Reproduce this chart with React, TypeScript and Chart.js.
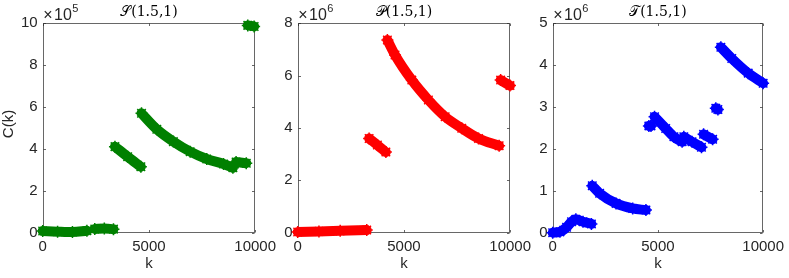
import React, { useEffect, useRef } from "react";
import { Chart, registerables } from "chart.js";
Chart.register(...registerables);

// ---------- data (values in axis units: S ×10^5, P and T ×10^6) ----------
const kTickStep = 5000;
const kMax = 10000;

const sSeg1 = [[0, 0.08], [700, 0.05], [1400, 0.03], [2080, 0.09]];
const sSeg2 = [[2450, 0.18], [2900, 0.2], [3330, 0.17]];
const sSeg3 = [[3400, 4.11], [4000, 3.63], [4620, 3.15]];
const sSeg4 = [[4650, 5.7], [5370, 4.94], [6150, 4.35], [6940, 3.87], [7720, 3.52], [8510, 3.28], [8950, 3.1]];
const sSeg5 = [[9100, 3.38], [9580, 3.32]];
const sSeg6 = [[9650, 9.9], [9950, 9.85]];

const pSeg1 = [[0, 0.03], [1000, 0.05], [2000, 0.07], [3250, 0.1]];
const pSeg2 = [[3360, 3.6], [3750, 3.35], [4150, 3.08]];
const pSeg3 = [[4220, 7.36], [4580, 6.79], [5370, 5.83], [6150, 5.07], [6940, 4.43], [7720, 3.99], [8510, 3.6], [9480, 3.32]];
const pSeg4 = [[9550, 5.83], [9990, 5.62]];

const tSeg1 = [[0, 0.0], [345, 0.02], [660, 0.13], [895, 0.26], [1100, 0.32], [1440, 0.26], [1840, 0.21]];
const tSeg2 = [[1880, 1.12], [2230, 0.94], [3010, 0.7], [3800, 0.58], [4430, 0.54]];
const tSeg3 = [[4570, 2.55], [4670, 2.55]];
const tSeg4 = [[4840, 2.77], [5370, 2.49], [5760, 2.29], [6150, 2.17]];
const tSeg5 = [[6230, 2.29], [6620, 2.17], [7070, 2.04]];
const tSeg6 = [[7170, 2.35], [7600, 2.23]];
const tSeg7 = [[7750, 2.97], [7850, 2.94]];
const tSeg8 = [[7990, 4.43], [8510, 4.16], [9290, 3.81], [10000, 3.57]];

const panelTitles = ["𝒮(1.5,1)", "𝒫(1.5,1)", "𝒯(1.5,1)"];
const panelExponents = ["5", "6", "6"];
const panelYMax = [10, 8, 5];
const panelYStep = [2, 2, 1];
const panelColors = ["#008000", "#ff0000", "#0000ff"];
const panelSegments = [
  [sSeg1, sSeg2, sSeg3, sSeg4, sSeg5, sSeg6],
  [pSeg1, pSeg2, pSeg3, pSeg4],
  [tSeg1, tSeg2, tSeg3, tSeg4, tSeg5, tSeg6, tSeg7, tSeg8],
];
const xLabel = "k";
const yLabel = "C(k)";

// ---------- layout ----------
const W = 789;
const H = 278;
const plotLefts = [42.7, 297.7, 552.7];
const plotWidth = 212.5;
const plotTop = 23.3;
const plotBottom = 232.7;
const Y_AXIS_W = 30;
const X_AXIS_H = 30;
const SANS = '"Liberation Sans", Arial, Helvetica, sans-serif';
const SERIF = '"DejaVu Serif", "Liberation Serif", serif';
const AXIS_COLOR = "#262626";

function makeDecor(i: number) {
  return {
    id: "decor" + i,
    beforeDatasetsDraw(chart: any) {
      const { ctx, chartArea: a, scales } = chart;
      ctx.save();
      ctx.strokeStyle = "rgba(38,38,38,0.7)";
      ctx.lineWidth = 1;
      const L = Math.round(a.left) + 0.5;
      const R = Math.round(a.right) - 0.5;
      const T = Math.round(a.top) + 0.5;
      const B = Math.round(a.bottom) - 0.5;
      ctx.strokeRect(L, T, R - L, B - T);
      const tl = 2.5;
      ctx.beginPath();
      for (const t of scales.x.ticks) {
        const px = Math.round(scales.x.getPixelForValue(t.value)) + 0.5;
        ctx.moveTo(px, B);
        ctx.lineTo(px, B - tl);
        ctx.moveTo(px, T);
        ctx.lineTo(px, T + tl);
      }
      for (const t of scales.y.ticks) {
        const py = Math.round(scales.y.getPixelForValue(t.value)) + 0.5;
        ctx.moveTo(L, py);
        ctx.lineTo(L + tl, py);
        ctx.moveTo(R, py);
        ctx.lineTo(R - tl, py);
      }
      ctx.stroke();
      ctx.restore();
    },
    afterDraw(chart: any) {
      const { ctx, chartArea: a } = chart;
      const cx = (a.left + a.right) / 2;
      ctx.save();
      // title
      ctx.fillStyle = "#000";
      ctx.textAlign = "center";
      ctx.textBaseline = "alphabetic";
      ctx.font = `14px ${SERIF}`;
      ctx.fillText(panelTitles[i], cx, 16);
      // exponent
      ctx.fillStyle = AXIS_COLOR;
      ctx.textAlign = "left";
      ctx.font = `16px ${SANS}`;
      const x0 = a.left + 0.5;
      ctx.fillText("×", x0, 20);
      const wx = ctx.measureText("×").width;
      ctx.fillText("10", x0 + wx + 1.5, 20);
      const w10 = ctx.measureText("10").width;
      ctx.font = `11px ${SANS}`;
      ctx.fillText(panelExponents[i], x0 + wx + 1.5 + w10 + 0.5, 12);
      // x label
      ctx.font = `15px ${SANS}`;
      ctx.textAlign = "center";
      ctx.textBaseline = "middle";
      ctx.fillText(xLabel, cx, 264);
      if (i === 0) {
        ctx.translate(9, (a.top + a.bottom) / 2 - 4);
        ctx.rotate(-Math.PI / 2);
        ctx.fillText(yLabel, 0, 0);
      }
      ctx.restore();
    },
  };
}

function Panel({ i }: { i: number }) {
  const ref = useRef<HTMLCanvasElement | null>(null);
  useEffect(() => {
    const canvas = ref.current;
    if (!canvas) return;
    const color = panelColors[i];
    const datasets = panelSegments[i].map((seg) => ({
      data: seg.map(([x, y]) => ({ x, y })),
      showLine: true,
      borderColor: color,
      backgroundColor: color,
      borderWidth: 10,
      borderCapStyle: "round" as const,
      borderJoinStyle: "round" as const,
      cubicInterpolationMode: "monotone" as const,
      pointStyle: "star" as const,
      pointRadius: 6,
      pointBorderWidth: 1.5,
      pointBorderColor: color,
      clip: false as any,
    }));
    const left = plotLefts[i];
    const right = left + plotWidth;
    const chart = new Chart(canvas, {
      type: "scatter",
      data: { datasets },
      options: {
        animation: false,
        responsive: false,
        devicePixelRatio: 1,
        events: [],
        layout: {
          padding: {
            left: left - Y_AXIS_W,
            right: W - right,
            top: plotTop,
            bottom: H - plotBottom - X_AXIS_H,
          },
        },
        plugins: { legend: { display: false }, tooltip: { enabled: false }, title: { display: false } },
        scales: {
          x: {
            type: "linear",
            min: 0,
            max: kMax,
            grid: { display: false, drawTicks: false },
            border: { display: false },
            ticks: {
              stepSize: kTickStep,
              color: AXIS_COLOR,
              font: { family: SANS, size: 15 },
              padding: 5,
              maxRotation: 0,
              autoSkip: false,
              callback: (v: any) => String(v),
            },
            afterFit: (s: any) => {
              s.height = X_AXIS_H;
            },
          },
          y: {
            type: "linear",
            min: 0,
            max: panelYMax[i],
            grid: { display: false, drawTicks: false },
            border: { display: false },
            ticks: {
              stepSize: panelYStep[i],
              color: AXIS_COLOR,
              font: { family: SANS, size: 15 },
              padding: 5,
              callback: (v: any) => String(v),
            },
            afterFit: (s: any) => {
              s.width = Y_AXIS_W;
            },
          },
        },
      },
      plugins: [makeDecor(i)],
    });
    return () => chart.destroy();
  }, [i]);
  return (
    <canvas
      ref={ref}
      width={W}
      height={H}
      style={{ position: "absolute", left: 0, top: 0, width: W, height: H }}
    />
  );
}

export default function App() {
  return (
    <div style={{ position: "fixed", left: 0, top: 0, width: W, height: H, background: "#fff" }}>
      <Panel i={0} />
      <Panel i={1} />
      <Panel i={2} />
    </div>
  );
}
